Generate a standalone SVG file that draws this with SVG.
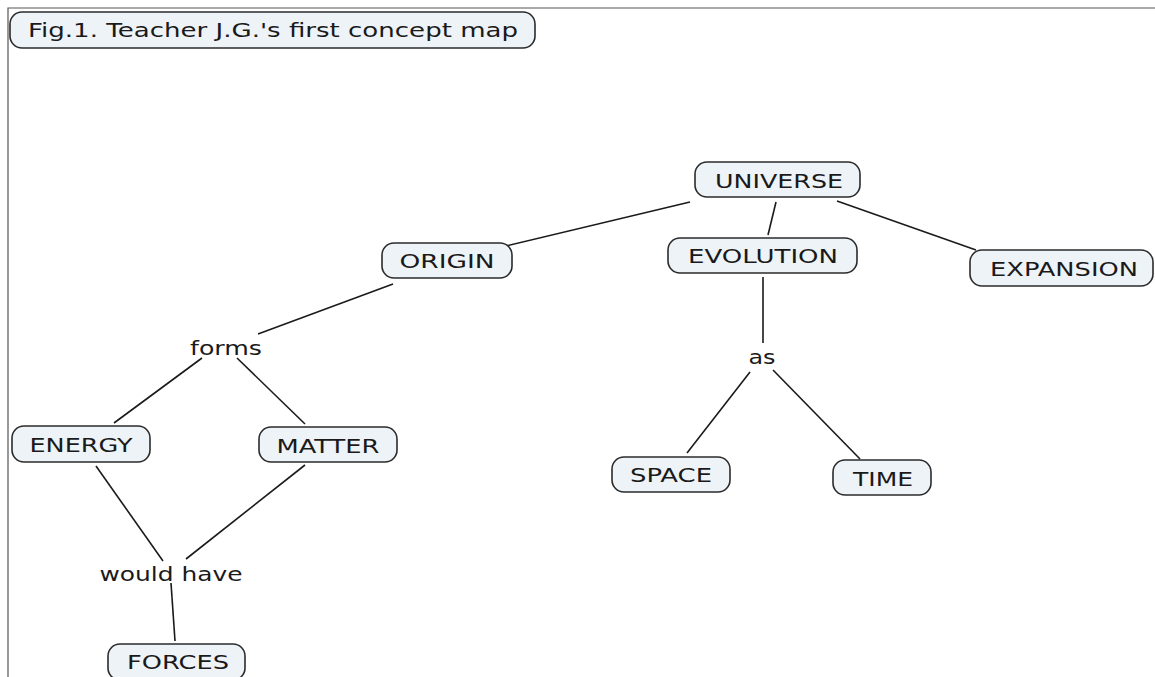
<svg xmlns="http://www.w3.org/2000/svg" width="1155" height="677" viewBox="0 0 1155 677">
<style>
.box{fill:#eef3f7;stroke:#2b2b2b;stroke-width:1.6}
.t{font-family:"DejaVu Sans",Verdana,sans-serif;font-size:19.5px;fill:#1a1a1a;text-anchor:middle}
.c line{stroke:#1a1a1a;stroke-width:1.6}
.frame{stroke:#555;stroke-width:1.2;fill:none}
</style>
<rect width="1155" height="677" fill="#fff"/>
<path class="frame" d="M8 677 V8 H1155"/>
<g id="title"><rect class="box" x="10" y="12" width="525" height="36" rx="12"/><text class="t" x="273" y="37" textLength="490" lengthAdjust="spacingAndGlyphs">Fig.1. Teacher J.G.'s first concept map</text></g>
<g class="c" id="connectors">
<line x1="690" y1="202" x2="506" y2="246"/>
<line x1="776" y1="202" x2="768" y2="235"/>
<line x1="837" y1="201" x2="976" y2="250"/>
<line x1="393" y1="284" x2="258" y2="334"/>
<line x1="202" y1="358" x2="114" y2="423"/>
<line x1="237" y1="358" x2="305" y2="424"/>
<line x1="763" y1="277" x2="763" y2="343"/>
<line x1="750" y1="372" x2="687" y2="453"/>
<line x1="773" y1="370" x2="860" y2="459"/>
<line x1="96" y1="466" x2="163" y2="561"/>
<line x1="305" y1="465" x2="186" y2="559"/>
<line x1="171" y1="583" x2="175" y2="641"/>
</g>
<g id="universe"><rect class="box" x="695" y="162" width="165" height="35" rx="12"/><text class="t" x="779" y="188" textLength="128" lengthAdjust="spacingAndGlyphs">UNIVERSE</text></g>
<g id="origin"><rect class="box" x="382" y="243" width="130" height="35" rx="12"/><text class="t" x="447" y="268" textLength="95" lengthAdjust="spacingAndGlyphs">ORIGIN</text></g>
<g id="evolution"><rect class="box" x="668" y="238" width="189" height="35" rx="12"/><text class="t" x="763" y="263" textLength="150" lengthAdjust="spacingAndGlyphs">EVOLUTION</text></g>
<g id="expansion"><rect class="box" x="970" y="250" width="183" height="36" rx="12"/><text class="t" x="1064" y="276" textLength="148" lengthAdjust="spacingAndGlyphs">EXPANSION</text></g>
<g id="forms"><text class="t" x="226" y="355" textLength="72" lengthAdjust="spacingAndGlyphs">forms</text></g>
<g id="energy"><rect class="box" x="12" y="426" width="138" height="36" rx="12"/><text class="t" x="81" y="452" textLength="103" lengthAdjust="spacingAndGlyphs">ENERGY</text></g>
<g id="matter"><rect class="box" x="259" y="427" width="138" height="35" rx="12"/><text class="t" x="328" y="453" textLength="103" lengthAdjust="spacingAndGlyphs">MATTER</text></g>
<g id="wouldhave"><text class="t" x="171" y="581" textLength="143" lengthAdjust="spacingAndGlyphs">would have</text></g>
<g id="forces"><rect class="box" x="108" y="644" width="137" height="36" rx="12"/><text class="t" x="178" y="669" textLength="102" lengthAdjust="spacingAndGlyphs">FORCES</text></g>
<g id="as"><text class="t" x="762" y="364" textLength="27" lengthAdjust="spacingAndGlyphs">as</text></g>
<g id="space"><rect class="box" x="612" y="457" width="118" height="35" rx="12"/><text class="t" x="671" y="482" textLength="82" lengthAdjust="spacingAndGlyphs">SPACE</text></g>
<g id="time"><rect class="box" x="833" y="460" width="98" height="35" rx="12"/><text class="t" x="883" y="486" textLength="60" lengthAdjust="spacingAndGlyphs">TIME</text></g>
</svg>
